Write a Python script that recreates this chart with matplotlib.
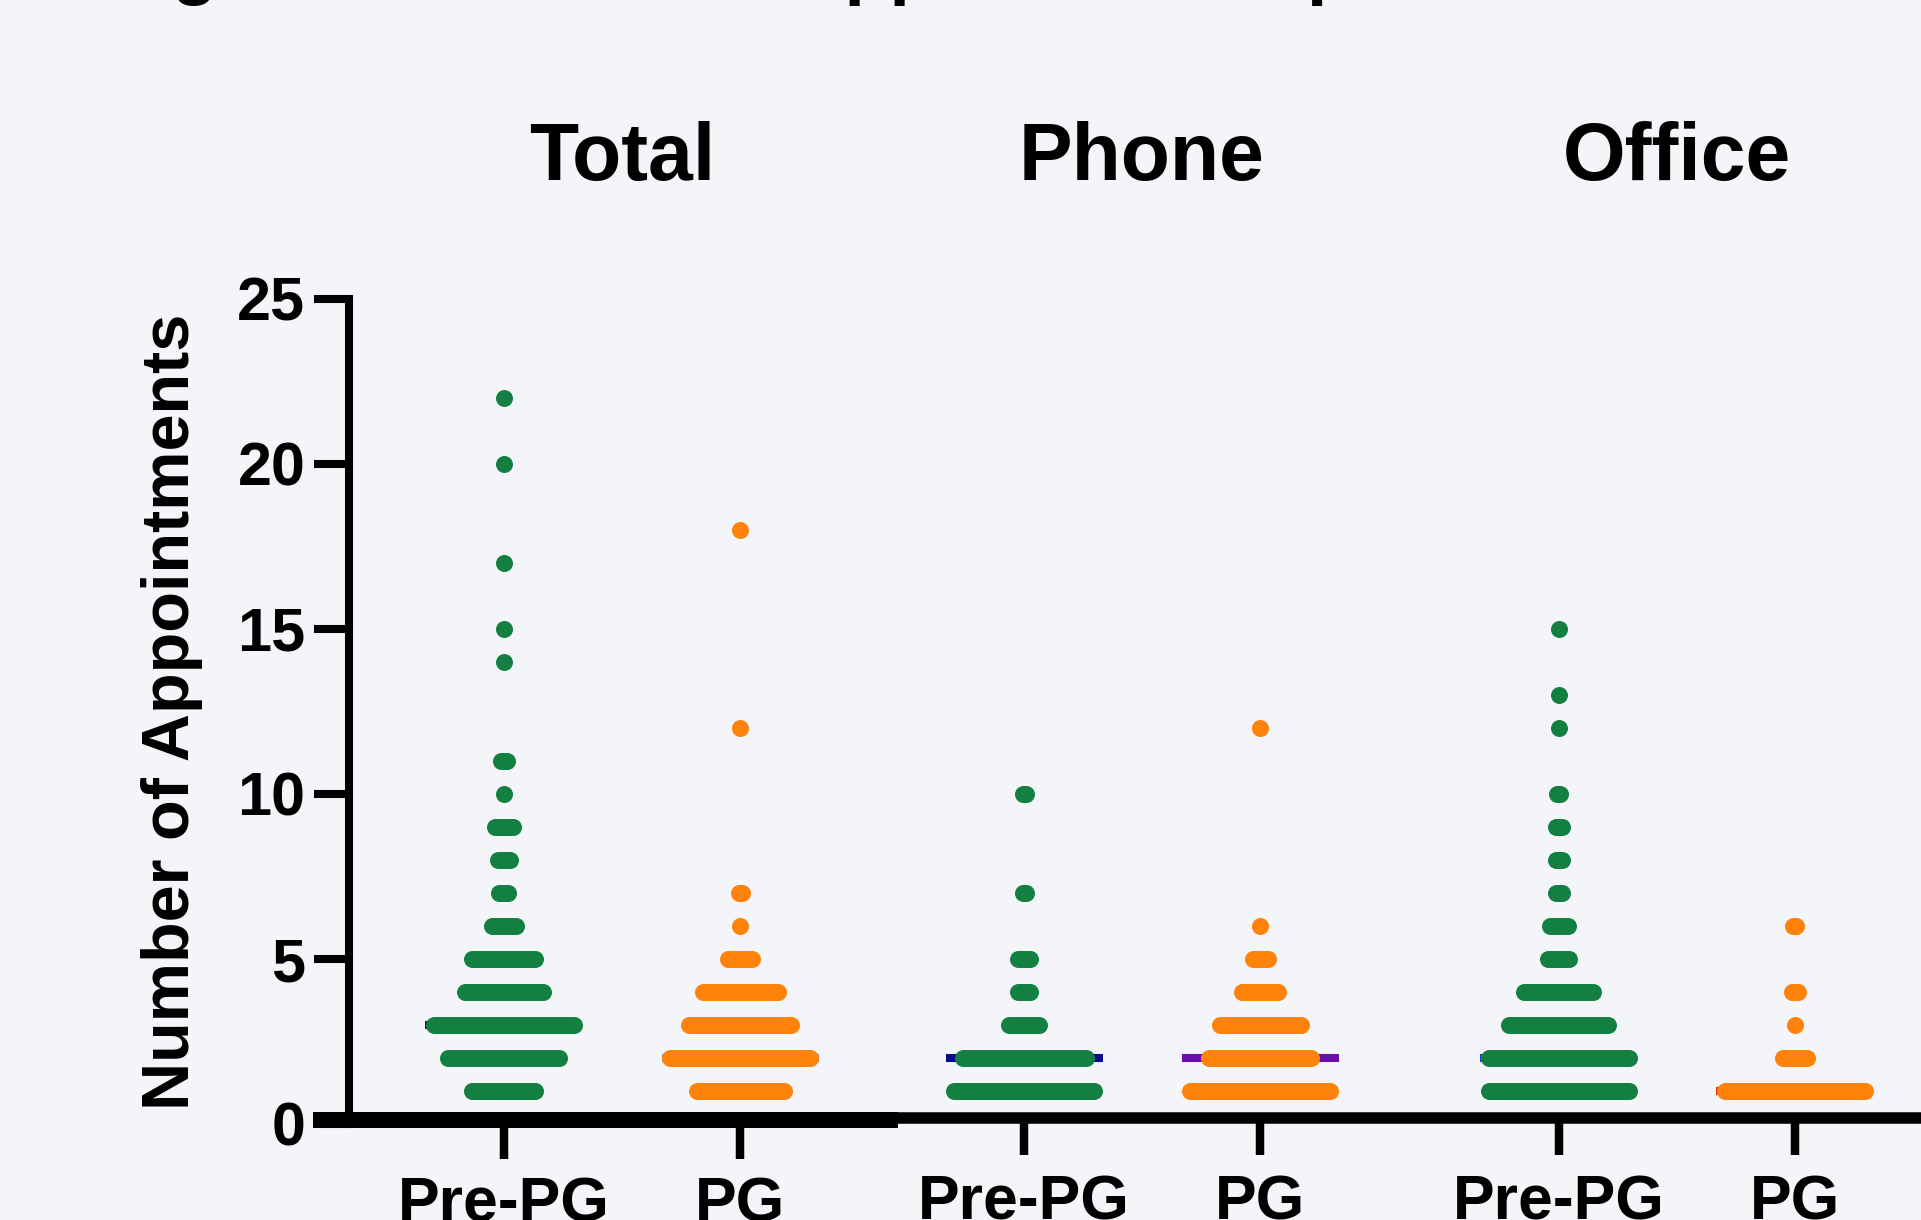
import numpy as np
import matplotlib
matplotlib.use("Agg")
import matplotlib.pyplot as plt
from matplotlib.transforms import blended_transform_factory

plt.rcParams['font.family'] = ['Liberation Sans', 'DejaVu Sans']
plt.rcParams['font.weight'] = 'bold'

BG = '#f3f5f9'
GREEN = '#138042'
ORANGE = '#ff820a'

# --- data: appointments per patient -> number of patients ---
panels = ['Total', 'Phone', 'Office']
groups = ['Pre-PG', 'PG']

total_pre_vals = [1, 2, 3, 4, 5, 6, 7, 8, 9, 10, 11, 14, 15, 17, 20, 22]
total_pre_counts = [22, 38, 55, 27, 22, 9, 4, 5, 7, 1, 3, 1, 1, 1, 1, 1]
total_pg_vals = [1, 2, 3, 4, 5, 6, 7, 12, 18]
total_pg_counts = [30, 60, 35, 26, 9, 1, 2, 1, 1]

phone_pre_vals = [1, 2, 3, 4, 5, 7, 10]
phone_pre_counts = [60, 42, 11, 5, 5, 2, 2]
phone_pg_vals = [1, 2, 3, 4, 5, 6, 12]
phone_pg_counts = [55, 35, 28, 13, 6, 1, 1]

office_pre_vals = [1, 2, 3, 4, 5, 6, 7, 8, 9, 10, 12, 13, 15]
office_pre_counts = [60, 70, 34, 24, 8, 7, 3, 3, 3, 2, 1, 1, 1]
office_pg_vals = [1, 2, 3, 4, 6]
office_pg_counts = [70, 9, 1, 3, 2]

data = {
    'Total': [(total_pre_vals, total_pre_counts), (total_pg_vals, total_pg_counts)],
    'Phone': [(phone_pre_vals, phone_pre_counts), (phone_pg_vals, phone_pg_counts)],
    'Office': [(office_pre_vals, office_pre_counts), (office_pg_vals, office_pg_counts)],
}
median_colors = {
    'Total': ['#222222', '#6f8fd0'],
    'Phone': ['#0a0a8c', '#6a0dad'],
    'Office': ['#2040c0', '#e03020'],
}
dot_colors = [GREEN, ORANGE]

W, H = 1921, 1220
fig = plt.figure(figsize=(W / 100, H / 100), dpi=100, facecolor=BG)

# axes layout in pixels: (left, right, xlim)
y0_px, y25_px = 1124, 299
layout = [(349, 898, (-0.6533, 1.668)),
          (898, 1419, (-0.5339, 1.6737)),
          (1419, 1921, (-0.5932, 1.5339))]

dot_d = 17          # dot diameter, px
step_px = 3         # horizontal offset between tied points, px
spread_px = 140     # max spread of dot centres, px
med_half_px = 78.5
ms = dot_d * 72 / 100

for i, (name, (left, right, xl)) in enumerate(zip(panels, layout)):
    ax = fig.add_axes([left / W, (H - y0_px) / H, (right - left) / W, (y0_px - y25_px) / H])
    ax.set_facecolor('none')
    ax.set_xlim(*xl)
    ax.set_ylim(0, 25)
    px_per_unit = (right - left) / (xl[1] - xl[0])

    for g, (vals, counts) in enumerate(data[name]):
        allv = np.repeat(vals, counts)
        med = np.median(allv)
        hw = med_half_px / px_per_unit
        ax.hlines(med, g - hw, g + hw, color=median_colors[name][g], lw=5.8, zorder=1)
        for v, n in zip(vals, counts):
            step = step_px
            if n > 1 and (n - 1) * step > spread_px:
                step = spread_px / (n - 1)
            xs = g + (np.arange(n) - (n - 1) / 2) * step / px_per_unit
            ax.scatter(xs, np.full(n, v), s=ms ** 2, color=dot_colors[g],
                       linewidths=0, zorder=2, clip_on=False)

    for s in ['top', 'right']:
        ax.spines[s].set_visible(False)
    if i == 0:
        ax.spines['left'].set_linewidth(5.8)
        ax.spines['left'].set_bounds(0, 25)
        ax.spines['left'].set_capstyle('projecting')
        ax.spines['bottom'].set_linewidth(11.5)
        ax.spines['bottom'].set_position(('data', 0.12))
        ax.spines['bottom'].set_bounds(xl[0] - 36 / px_per_unit, xl[1])
        ax.spines['bottom'].set_capstyle('butt')
        ax.set_yticks(range(0, 26, 5))
        ax.tick_params(axis='y', direction='out', length=25, width=5.8, pad=6.5, labelsize=44)
        ax.tick_params(axis='x', direction='out', length=28, width=6.1, pad=12, labelsize=45)
    else:
        ax.spines['left'].set_visible(False)
        ax.spines['bottom'].set_linewidth(8.3)
        ax.spines['bottom'].set_position(('data', 0.19))
        ax.spines['bottom'].set_capstyle('butt')
        ax.tick_params(axis='y', left=False, labelleft=False)
        ax.tick_params(axis='x', direction='out', length=26.8, width=6.1, pad=13.5, labelsize=45)
    ax.set_xticks([0, 1], groups)
    for lab in ax.get_xticklabels() + ax.get_yticklabels():
        lab.set_fontweight('bold')

    tr = blended_transform_factory(ax.transData, fig.transFigure)
    ax.text(0.5, 1 - 180 / H, name, transform=tr, ha='center', va='baseline',
            fontsize=58, fontweight='bold')

fig.text(172 / W, 1 - 712 / H, 'Number of Appointments', rotation=90,
         ha='center', va='center', fontsize=48, fontweight='bold')

# title sits mostly above the visible area; only its descenders show
fig.text(-12 / W, 1 + 8.5 / H, 'Changes in Number of Appointments per Patient',
         ha='left', va='baseline', fontsize=53, fontweight='bold')

fig.savefig('out.png', dpi=100, facecolor=BG)
